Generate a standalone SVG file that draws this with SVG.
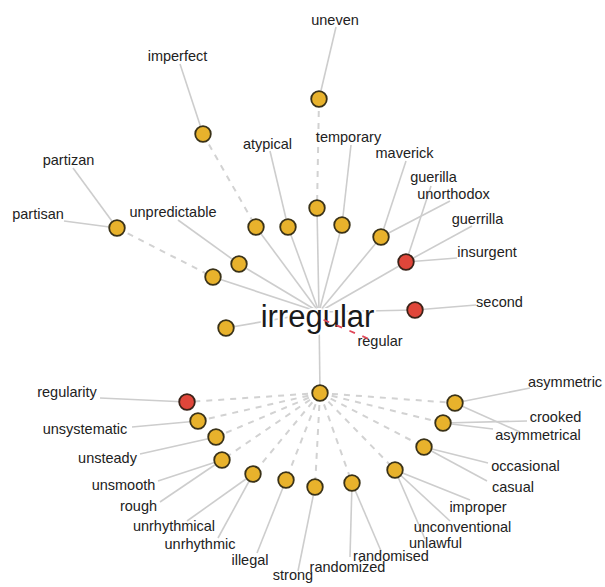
<svg xmlns="http://www.w3.org/2000/svg" width="605" height="587" viewBox="0 0 605 587">
<style>
.e{stroke:#cdcdcd;stroke-width:1.6;fill:none}
.d{stroke:#d2d2d2;stroke-width:2;stroke-dasharray:6 6;fill:none}
.r{stroke:#e0485a;stroke-width:1.8;stroke-dasharray:6 8;stroke-dashoffset:9;fill:none}
.n{fill:#e8b22c;stroke:#3a3218;stroke-width:1.8}
.nr{fill:#e0463a;stroke:#3a2218;stroke-width:1.8}
text{font-family:"Liberation Sans",Arial,sans-serif;font-size:14.5px;fill:#222;text-anchor:middle}
.big{font-size:31px;fill:#1a1a1a;stroke:#fff;stroke-width:4;paint-order:stroke;stroke-linejoin:round}
</style>
<rect width="605" height="587" fill="#fff"/>
<g id="connectors">
<line class="e" x1="319" y1="312" x2="226" y2="328"/>
<line class="e" x1="319" y1="312" x2="213" y2="277"/>
<line class="e" x1="319" y1="312" x2="239" y2="264"/>
<line class="e" x1="319" y1="312" x2="256" y2="227"/>
<line class="e" x1="319" y1="312" x2="288" y2="227"/>
<line class="e" x1="319" y1="312" x2="317" y2="208"/>
<line class="e" x1="319" y1="312" x2="342" y2="225"/>
<line class="e" x1="319" y1="312" x2="381" y2="237"/>
<line class="e" x1="319" y1="312" x2="406" y2="262"/>
<line class="e" x1="319" y1="312" x2="415" y2="310"/>
<line class="e" x1="319" y1="312" x2="320" y2="393"/>
<line class="d" x1="117" y1="228" x2="213" y2="277"/>
<line class="d" x1="203" y1="134" x2="256" y2="227"/>
<line class="d" x1="319" y1="99" x2="317" y2="208"/>
<line class="e" x1="319" y1="99" x2="336" y2="27"/>
<line class="e" x1="203" y1="134" x2="180" y2="64"/>
<line class="e" x1="117" y1="228" x2="73" y2="168"/>
<line class="e" x1="117" y1="228" x2="64" y2="221"/>
<line class="e" x1="239" y1="264" x2="178" y2="220"/>
<line class="e" x1="288" y1="227" x2="270" y2="151"/>
<line class="e" x1="342" y1="225" x2="351" y2="145"/>
<line class="e" x1="381" y1="237" x2="406" y2="161"/>
<line class="e" x1="381" y1="237" x2="450" y2="201"/>
<line class="e" x1="406" y1="262" x2="431" y2="186"/>
<line class="e" x1="406" y1="262" x2="472" y2="226"/>
<line class="e" x1="406" y1="262" x2="457" y2="258"/>
<line class="e" x1="415" y1="310" x2="476" y2="305"/>
<line class="d" x1="320" y1="393" x2="187" y2="402"/>
<line class="d" x1="320" y1="393" x2="198" y2="421"/>
<line class="d" x1="320" y1="393" x2="216" y2="437"/>
<line class="d" x1="320" y1="393" x2="222" y2="460"/>
<line class="d" x1="320" y1="393" x2="253" y2="474"/>
<line class="d" x1="320" y1="393" x2="286" y2="480"/>
<line class="d" x1="320" y1="393" x2="315" y2="487"/>
<line class="d" x1="320" y1="393" x2="352" y2="483"/>
<line class="d" x1="320" y1="393" x2="395" y2="470"/>
<line class="d" x1="320" y1="393" x2="424" y2="447"/>
<line class="d" x1="320" y1="393" x2="443" y2="423"/>
<line class="d" x1="320" y1="393" x2="455" y2="403"/>
<line class="e" x1="187" y1="402" x2="100" y2="398"/>
<line class="e" x1="198" y1="421" x2="132" y2="427"/>
<line class="e" x1="216" y1="437" x2="140" y2="454"/>
<line class="e" x1="222" y1="460" x2="158" y2="481"/>
<line class="e" x1="222" y1="460" x2="160" y2="502"/>
<line class="e" x1="253" y1="474" x2="187" y2="521"/>
<line class="e" x1="253" y1="474" x2="218" y2="538"/>
<line class="e" x1="286" y1="480" x2="257" y2="553"/>
<line class="e" x1="315" y1="487" x2="298" y2="571"/>
<line class="e" x1="352" y1="483" x2="350" y2="557"/>
<line class="e" x1="352" y1="483" x2="381" y2="551"/>
<line class="e" x1="395" y1="470" x2="425" y2="539"/>
<line class="e" x1="395" y1="470" x2="450" y2="521"/>
<line class="e" x1="395" y1="470" x2="470" y2="500"/>
<line class="e" x1="424" y1="447" x2="488" y2="463"/>
<line class="e" x1="424" y1="447" x2="487" y2="481"/>
<line class="e" x1="443" y1="423" x2="527" y2="421"/>
<line class="e" x1="443" y1="423" x2="493" y2="429"/>
<line class="e" x1="455" y1="403" x2="530" y2="388"/>
<line class="e" x1="455" y1="403" x2="520" y2="432"/>
</g>
<g id="node-uneven"><circle class="n" cx="319" cy="99" r="7.8"/></g>
<g id="node-imperfect"><circle class="n" cx="203" cy="134" r="7.8"/></g>
<g id="node-partisan"><circle class="n" cx="117" cy="228" r="7.8"/></g>
<g id="node-t1"><circle class="n" cx="256" cy="227" r="7.8"/></g>
<g id="node-atypical"><circle class="n" cx="288" cy="227" r="7.8"/></g>
<g id="node-t2"><circle class="n" cx="317" cy="208" r="7.8"/></g>
<g id="node-temporary"><circle class="n" cx="342" cy="225" r="7.8"/></g>
<g id="node-maverick"><circle class="n" cx="381" cy="237" r="7.8"/></g>
<g id="node-insurgent"><circle class="nr" cx="406" cy="262" r="7.8"/></g>
<g id="node-second"><circle class="nr" cx="415" cy="310" r="7.8"/></g>
<g id="node-unpredictable"><circle class="n" cx="239" cy="264" r="7.8"/></g>
<g id="node-t3"><circle class="n" cx="213" cy="277" r="7.8"/></g>
<g id="node-t4"><circle class="n" cx="226" cy="328" r="7.8"/></g>
<g id="node-hub"><circle class="n" cx="320" cy="393" r="7.8"/></g>
<g id="node-regularity"><circle class="nr" cx="187" cy="402" r="7.8"/></g>
<g id="node-unsystematic"><circle class="n" cx="198" cy="421" r="7.8"/></g>
<g id="node-unsteady"><circle class="n" cx="216" cy="437" r="7.8"/></g>
<g id="node-rough"><circle class="n" cx="222" cy="460" r="7.8"/></g>
<g id="node-unrhythmic"><circle class="n" cx="253" cy="474" r="7.8"/></g>
<g id="node-illegal"><circle class="n" cx="286" cy="480" r="7.8"/></g>
<g id="node-strong"><circle class="n" cx="315" cy="487" r="7.8"/></g>
<g id="node-randomized"><circle class="n" cx="352" cy="483" r="7.8"/></g>
<g id="node-unlawful"><circle class="n" cx="395" cy="470" r="7.8"/></g>
<g id="node-casual"><circle class="n" cx="424" cy="447" r="7.8"/></g>
<g id="node-crooked"><circle class="n" cx="443" cy="423" r="7.8"/></g>
<g id="node-asymmetric"><circle class="n" cx="455" cy="403" r="7.8"/></g>
<g id="labels">
<text x="335" y="25">uneven</text>
<text x="177.5" y="61">imperfect</text>
<text x="267.5" y="149">atypical</text>
<text x="68.5" y="165">partizan</text>
<text x="38" y="219">partisan</text>
<text x="173" y="217">unpredictable</text>
<text x="348.5" y="142">temporary</text>
<text x="404.5" y="158">maverick</text>
<text x="433.5" y="182">guerilla</text>
<text x="453.5" y="199">unorthodox</text>
<text x="477.5" y="224">guerrilla</text>
<text x="487" y="257">insurgent</text>
<text x="499.5" y="307">second</text>
<text x="380" y="346">regular</text>
<text x="67" y="397">regularity</text>
<text x="85" y="434">unsystematic</text>
<text x="107.5" y="463">unsteady</text>
<text x="123.5" y="490">unsmooth</text>
<text x="138.5" y="511">rough</text>
<text x="174" y="531">unrhythmical</text>
<text x="200" y="549">unrhythmic</text>
<text x="250" y="565">illegal</text>
<text x="293" y="580">strong</text>
<text x="347.5" y="572">randomized</text>
<text x="391" y="561">randomised</text>
<text x="435.5" y="548">unlawful</text>
<text x="462.5" y="532">unconventional</text>
<text x="478" y="512">improper</text>
<text x="525.5" y="471">occasional</text>
<text x="513" y="492">casual</text>
<text x="555.5" y="422">crooked</text>
<text x="538" y="440">asymmetrical</text>
<text x="528" y="387" style="text-anchor:start">asymmetric</text>
<text class="big" x="317.5" y="327">irregular</text>
</g>
<g id="regular-link"><line class="r" x1="319" y1="318" x2="369" y2="339"/></g>
</svg>
